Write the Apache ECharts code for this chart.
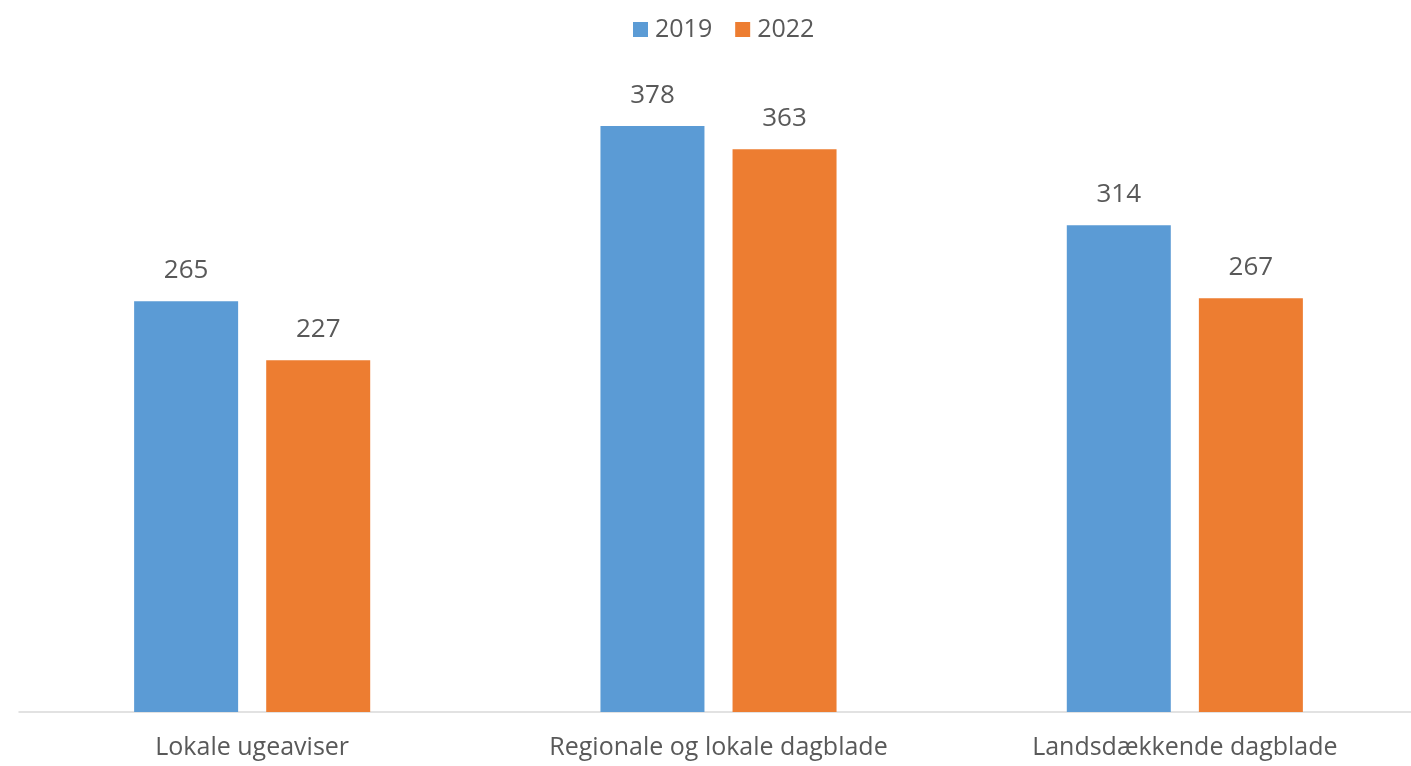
<!DOCTYPE html>
<html>
<head>
<meta charset="utf-8">
<script src="https://cdn.jsdelivr.net/npm/echarts@6/dist/echarts.min.js"></script>
<style>
  html, body { margin: 0; padding: 0; background: #fff; overflow: hidden; }
  /* canvas runs a few pixels past the right edge, so the axis line bleeds off the page */
  #chart { width: 1418px; height: 766px; }
</style>
</head>
<body>
<div id="chart"></div>
<script>
// Categories and values per year
const categories = ['Lokale ugeaviser', 'Regionale og lokale dagblade', 'Landsdækkende dagblade'];
const values2019 = [265, 378, 314];
const values2022 = [227, 363, 267];
const seriesNames = ['2019', '2022'];

const FONT = '"Open Sans", "Noto Sans", sans-serif';
const TEXT = '#595959';

const chart = echarts.init(document.getElementById('chart'));

function barSeries(name, data, color) {
  return {
    name: name,
    type: 'bar',
    data: data,
    barWidth: 104,
    barGap: '27%',
    itemStyle: { color: color },
    label: {
      show: true,
      position: 'top',
      distance: 18,
      color: TEXT,
      fontFamily: FONT,
      fontSize: 26
    }
  };
}

chart.setOption({
  animation: false,
  legend: {
    top: 12,
    left: 628,
    itemWidth: 15,
    itemHeight: 15,
    itemGap: 23,
    icon: 'rect',
    textStyle: { color: TEXT, fontFamily: FONT, fontSize: 25, padding: [0, 0, 0, 2] },
    data: seriesNames
  },
  grid: { left: 19, right: 0, top: 92, height: 620, containLabel: false },
  xAxis: {
    type: 'category',
    data: categories,
    axisTick: { show: false },
    axisLine: { lineStyle: { color: '#d9d9d9', width: 1.5 } },
    axisLabel: { color: TEXT, fontFamily: FONT, fontSize: 25, margin: 23 }
  },
  yAxis: {
    type: 'value',
    min: 0,
    max: 400,
    show: false,
    splitLine: { show: false }
  },
  series: [
    barSeries(seriesNames[0], values2019, '#5B9BD5'),
    barSeries(seriesNames[1], values2022, '#ED7D31')
  ]
});
</script>
</body>
</html>
